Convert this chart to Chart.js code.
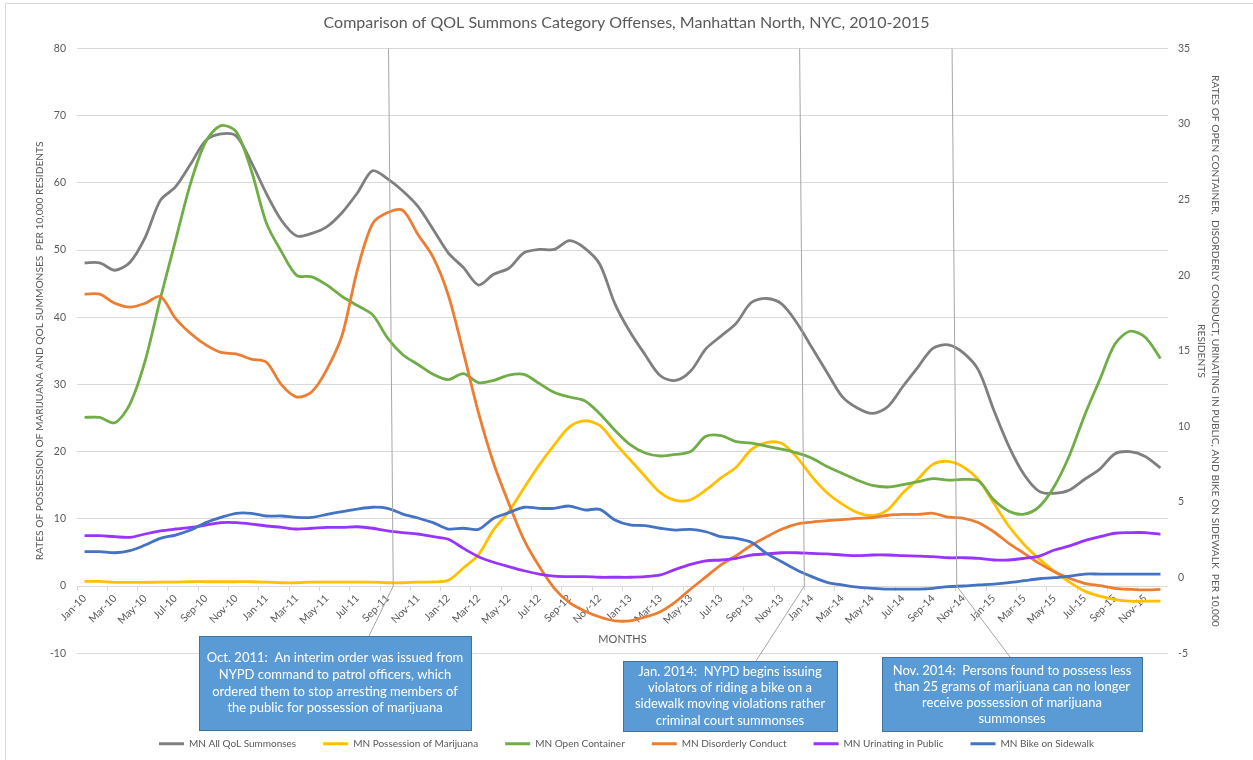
<!DOCTYPE html>
<html>
<head>
<meta charset="utf-8">
<title>QOL Summons, Manhattan North</title>
<script src="https://cdn.jsdelivr.net/npm/chart.js@4.4.1/dist/chart.umd.min.js"></script>
<style>
  html, body { margin: 0; padding: 0; background: #fff; }
  #wrap { position: relative; width: 1253px; height: 760px; }
</style>
</head>
<body>
<div id="wrap"><canvas id="qolChart"></canvas></div>
<script>
// months on the x axis (Jan-10 .. Dec-15)
const months = [
  'Jan-10','Feb-10','Mar-10','Apr-10','May-10','Jun-10','Jul-10','Aug-10','Sep-10','Oct-10','Nov-10','Dec-10',
  'Jan-11','Feb-11','Mar-11','Apr-11','May-11','Jun-11','Jul-11','Aug-11','Sep-11','Oct-11','Nov-11','Dec-11',
  'Jan-12','Feb-12','Mar-12','Apr-12','May-12','Jun-12','Jul-12','Aug-12','Sep-12','Oct-12','Nov-12','Dec-12',
  'Jan-13','Feb-13','Mar-13','Apr-13','May-13','Jun-13','Jul-13','Aug-13','Sep-13','Oct-13','Nov-13','Dec-13',
  'Jan-14','Feb-14','Mar-14','Apr-14','May-14','Jun-14','Jul-14','Aug-14','Sep-14','Oct-14','Nov-14','Dec-14',
  'Jan-15','Feb-15','Mar-15','Apr-15','May-15','Jun-15','Jul-15','Aug-15','Sep-15','Oct-15','Nov-15','Dec-15'
];

// left axis series (per 10,000 residents)
const allQol = [
  48.1, 48.1, 47.0, 48.2, 51.9, 57.4, 59.4, 62.8, 66.3, 67.3, 67.0, 63.1,
  58.4, 54.4, 52.1, 52.5, 53.5, 55.6, 58.5, 61.8, 60.6, 58.8, 56.5, 53.1,
  49.6, 47.4, 44.8, 46.4, 47.3, 49.6, 50.1, 50.1, 51.4, 50.3, 47.9, 42.0,
  37.8, 34.4, 31.3, 30.6, 32.0, 35.3, 37.2, 39.1, 42.2, 42.8, 42.0, 39.2,
  35.5, 31.8, 28.2, 26.5, 25.7, 26.7, 29.7, 32.6, 35.4, 35.9, 34.7, 32.1,
  26.2, 20.8, 16.6, 14.1, 13.8, 14.3, 15.9, 17.4, 19.7, 20.0, 19.3, 17.6
];
const marijuana = [
  0.7, 0.7, 0.55, 0.55, 0.55, 0.6, 0.6, 0.65, 0.65, 0.65, 0.65, 0.65,
  0.6, 0.5, 0.5, 0.6, 0.6, 0.6, 0.6, 0.6, 0.5, 0.5, 0.6, 0.62,
  0.86, 2.7, 4.7, 8.4, 11.1, 14.6, 18.0, 21.0, 23.7, 24.6, 23.9, 21.3,
  18.8, 16.3, 13.9, 12.75, 12.85, 14.3, 16.1, 17.7, 20.3, 21.35, 21.25, 19.2,
  16.3, 13.9, 12.2, 10.95, 10.5, 11.35, 13.85, 15.95, 18.15, 18.55, 17.7, 15.8,
  12.35, 8.9, 6.2, 4.05, 2.2, 0.6, -0.75, -1.5, -2.0, -2.25, -2.25, -2.25
];

// right axis series (per 10,000 residents)
const openContainer = [
  10.6, 10.6, 10.25, 11.5, 14.35, 18.45, 22.3, 26.1, 28.85, 29.9, 29.5, 26.95,
  23.45, 21.55, 20.0, 19.9, 19.35, 18.6, 18.0, 17.4, 15.85, 14.75, 14.1, 13.45,
  13.1, 13.5, 12.9, 13.05, 13.4, 13.45, 12.85, 12.25, 11.95, 11.7, 10.85, 9.75,
  8.8, 8.25, 8.05, 8.15, 8.35, 9.35, 9.4, 9.0, 8.9, 8.7, 8.5, 8.25,
  7.9, 7.35, 6.9, 6.45, 6.1, 6.0, 6.15, 6.35, 6.55, 6.45, 6.5, 6.4,
  5.15, 4.4, 4.2, 4.7, 6.05, 8.1, 10.75, 13.1, 15.45, 16.3, 15.9, 14.5
];
const disorderly = [
  18.75, 18.75, 18.15, 17.9, 18.15, 18.6, 17.15, 16.15, 15.4, 14.9, 14.8, 14.45,
  14.25, 12.75, 11.95, 12.3, 13.8, 16.05, 20.35, 23.4, 24.15, 24.3, 22.7, 21.2,
  18.7, 14.9, 10.9, 7.55, 4.9, 2.5, 0.75, -0.7, -1.65, -2.2, -2.6, -2.85,
  -2.85, -2.6, -2.25, -1.6, -0.75, 0.05, 0.85, 1.45, 2.15, 2.7, 3.2, 3.55,
  3.68, 3.77, 3.84, 3.93, 3.97, 4.13, 4.19, 4.19, 4.26, 4.0, 3.93, 3.64,
  3.04, 2.27, 1.61, 0.95, 0.4, -0.04, -0.37, -0.53, -0.7, -0.77, -0.81, -0.77
];
const urinating = [
  2.78, 2.78, 2.71, 2.67, 2.89, 3.09, 3.22, 3.33, 3.48, 3.64, 3.64, 3.55,
  3.42, 3.33, 3.22, 3.27, 3.33, 3.33, 3.37, 3.27, 3.09, 2.98, 2.89, 2.71,
  2.54, 1.94, 1.39, 1.02, 0.73, 0.46, 0.24, 0.11, 0.07, 0.07, 0.03, 0.03,
  0.03, 0.07, 0.18, 0.55, 0.88, 1.12, 1.17, 1.28, 1.5, 1.57, 1.65, 1.65,
  1.61, 1.57, 1.5, 1.46, 1.5, 1.5, 1.46, 1.43, 1.39, 1.32, 1.32, 1.28,
  1.17, 1.17, 1.28, 1.43, 1.83, 2.1, 2.45, 2.71, 2.94, 2.98, 2.98, 2.87
];
const bikeSidewalk = [
  1.72, 1.72, 1.65, 1.79, 2.16, 2.6, 2.82, 3.15, 3.64, 3.99, 4.26, 4.26,
  4.08, 4.08, 3.99, 3.99, 4.19, 4.37, 4.54, 4.66, 4.59, 4.21, 3.95, 3.64,
  3.22, 3.27, 3.2, 3.93, 4.3, 4.66, 4.59, 4.59, 4.74, 4.48, 4.52, 3.82,
  3.49, 3.44, 3.27, 3.15, 3.2, 3.04, 2.71, 2.6, 2.34, 1.61, 1.06, 0.51,
  0.07, -0.31, -0.48, -0.63, -0.7, -0.75, -0.75, -0.75, -0.7, -0.59, -0.55, -0.48,
  -0.42, -0.33, -0.2, -0.07, 0.0, 0.11, 0.24, 0.24, 0.24, 0.24, 0.24, 0.24
];

const seriesNames = ['MN All QoL Summonses', 'MN Possession of Marijuana', 'MN Open Container',
  'MN Disorderly Conduct', 'MN Urinating in Public', 'MN Bike on Sidewalk'];
const seriesColors = ['#7F7F7F', '#FFC000', '#70AD47', '#ED7D31', '#9933FF', '#4472C4'];
const seriesData = [allQol, marijuana, openContainer, disorderly, urinating, bikeSidewalk];
const seriesAxis = ['y', 'y', 'y2', 'y2', 'y2', 'y2'];

// left and right axis ranges / tick steps
const leftTicks = { min: -10, max: 80, step: 10 };
const rightTicks = { min: -5, max: 35, step: 5 };

// callouts: fractional month index where the leader line starts
const notes = [
  { at: 20.06, text: ['Oct. 2011:  An interim order was issued from', 'NYPD command to patrol officers, which',
      'ordered them to stop arresting members of', 'the public for possession of marijuana'] },
  { at: 47.19, text: ['Jan. 2014:  NYPD begins issuing', 'violators of riding a bike on a',
      'sidewalk moving violations rather', 'criminal court summonses'] },
  { at: 57.25, text: ['Nov. 2014:  Persons found to possess less', 'than 25 grams of marijuana can no longer',
      'receive possession of marijuana', 'summonses'] }
];
// box rectangles (x, y, w, h) and the point where the leader touches the box
const noteBoxes = [
  { x: 199, y: 636, w: 272, h: 94, tipX: 369, lines: [658, 675, 692, 708] },
  { x: 623, y: 661, w: 214, h: 70, tipX: 756, lines: [672, 688, 704, 721] },
  { x: 882, y: 657, w: 260, h: 74, tipX: 1010, lines: [671, 687, 703, 719] }
];

const FONT = 'Lato, "Open Sans", sans-serif';
const TEXT = '#595959';
const GRID = '#D9D9D9';

function xAt(scale, idx) {
  const i = Math.floor(idx);
  const a = scale.getPixelForValue(i);
  const b = scale.getPixelForValue(i + 1);
  return a + (idx - i) * (b - a);
}

// put the category axis on the zero line of the left axis, like Excel
const axisOnZero = {
  id: 'axisOnZero',
  afterLayout(chart) {
    const xs = chart.scales.x;
    const y0 = chart.scales.y.getPixelForValue(0);
    xs.top = y0;
    xs.bottom = y0 + 62;
  }
};

// chart frame, leader lines and callout boxes
const callouts = {
  id: 'callouts',
  afterDraw(chart) {
    const ctx = chart.ctx;
    const xs = chart.scales.x, ys = chart.scales.y;
    ctx.save();
    ctx.strokeStyle = GRID;
    ctx.lineWidth = 1;
    ctx.strokeRect(5.5, 3.5, 1300, 800);

    const yTop = ys.getPixelForValue(leftTicks.max);
    const yBend = ys.getPixelForValue(0);
    notes.forEach((n, k) => {
      const b = noteBoxes[k];
      ctx.strokeStyle = '#A6A6A6';
      ctx.lineWidth = 1;
      ctx.beginPath();
      ctx.moveTo(xAt(xs, n.at), yTop);
      ctx.lineTo(xAt(xs, n.at + 0.31), yBend);
      ctx.lineTo(b.tipX, b.y);
      ctx.stroke();
    });
    notes.forEach((n, k) => {
      const b = noteBoxes[k];
      ctx.fillStyle = '#5B9BD5';
      ctx.fillRect(b.x, b.y, b.w, b.h);
      ctx.strokeStyle = '#41719C';
      ctx.strokeRect(b.x + 0.5, b.y + 0.5, b.w, b.h);
      ctx.fillStyle = '#FFFFFF';
      ctx.font = '13px ' + FONT;
      ctx.textAlign = 'center';
      ctx.textBaseline = 'middle';
      n.text.forEach((t, j) => ctx.fillText(t, b.x + b.w / 2, b.lines[j]));
    });
    ctx.restore();
  }
};

const datasets = seriesNames.map((name, i) => ({
  label: name,
  data: seriesData[i],
  yAxisID: seriesAxis[i],
  borderColor: seriesColors[i],
  backgroundColor: seriesColors[i],
  borderWidth: 2.8,
  pointRadius: 0,
  tension: 0.3,
  fill: false,
  order: seriesNames.length - i
}));

new Chart(document.getElementById('qolChart'), {
  type: 'line',
  data: { labels: months, datasets: datasets },
  plugins: [axisOnZero, callouts],
  options: {
    responsive: true,
    maintainAspectRatio: false,
    animation: false,
    devicePixelRatio: 1,
    layout: { padding: { top: 0, left: 0, right: 0, bottom: 1.2 } },
    plugins: {
      title: {
        display: true,
        text: 'Comparison of QOL Summons Category Offenses, Manhattan North, NYC, 2010-2015',
        color: TEXT,
        font: { family: FONT, size: 16, weight: 'normal', lineHeight: 1.2 },
        padding: { top: 13, bottom: 16.3 }
      },
      legend: {
        position: 'bottom',
        labels: {
          color: TEXT,
          font: { family: FONT, size: 10 },
          boxWidth: 25,
          boxHeight: 3,
          padding: 27,
          sort: (a, b) => a.datasetIndex - b.datasetIndex,
          generateLabels(chart) {
            const items = Chart.defaults.plugins.legend.labels.generateLabels(chart);
            items.forEach(it => {
              it.fillStyle = seriesColors[it.datasetIndex];
              it.strokeStyle = seriesColors[it.datasetIndex];
              it.lineWidth = 0;
            });
            return items;
          }
        }
      },
      tooltip: { enabled: false }
    },
    scales: {
      x: {
        type: 'category',
        offset: true,
        afterFit(s) { s.height = 58.5; },
        border: { display: false },
        grid: {
          offset: true,
          drawOnChartArea: false,
          drawTicks: true,
          tickLength: 5,
          color: ctx => (ctx.index % 2 === 0 ? GRID : 'rgba(0,0,0,0)')
        },
        ticks: {
          autoSkip: false,
          maxRotation: 45,
          minRotation: 45,
          padding: 1,
          color: TEXT,
          font: { family: FONT, size: 10.5 },
          callback(v, i) { return i % 2 === 0 ? months[i] : ''; }
        },
        title: {
          display: true,
          text: 'MONTHS',
          color: TEXT,
          font: { family: FONT, size: 11, lineHeight: 1.2 },
          padding: { top: 0, bottom: 2 }
        }
      },
      y: {
        position: 'left',
        min: leftTicks.min,
        max: leftTicks.max,
        afterFit(s) { s.width = 77; },
        border: { display: false },
        grid: { color: GRID, lineWidth: 1, drawTicks: false },
        ticks: {
          stepSize: leftTicks.step,
          padding: 11,
          color: TEXT,
          font: { family: FONT, size: 10.5 }
        },
        title: {
          display: true,
          text: 'RATES OF POSSESSION OF MARIJUANA AND QOL SUMMONSES  PER 10,000 RESIDENTS',
          color: TEXT,
          font: { family: FONT, size: 10.2, lineHeight: 1.2 },
          padding: { top: 34, bottom: 0 }
        }
      },
      y2: {
        position: 'right',
        min: rightTicks.min,
        max: rightTicks.max,
        afterFit(s) { s.width = 85; },
        border: { display: false },
        grid: { drawOnChartArea: false, drawTicks: false },
        ticks: {
          stepSize: rightTicks.step,
          padding: 10,
          color: TEXT,
          font: { family: FONT, size: 10.5 }
        },
        title: {
          display: true,
          text: ['RATES OF OPEN CONTAINER,  DISORDERLY CONDUCT, URINATING IN PUBLIC, AND BIKE ON SIDEWALK  PER 10,000',
                 'RESIDENTS'],
          color: TEXT,
          font: { family: FONT, size: 10.2, lineHeight: 1.45 },
          padding: { top: 30, bottom: 0 }
        }
      }
    }
  }
});
</script>
</body>
</html>
